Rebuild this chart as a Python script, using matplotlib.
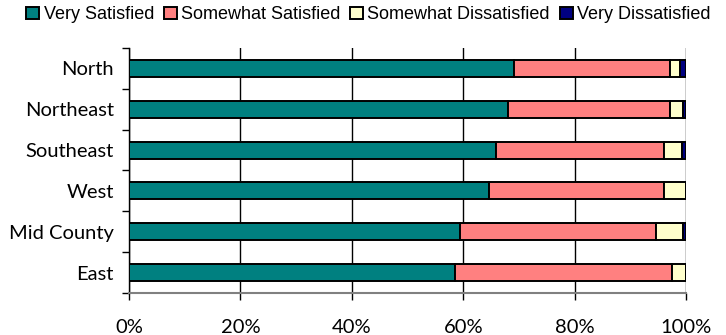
import matplotlib
matplotlib.use("Agg")
import matplotlib.pyplot as plt
import numpy as np

regions = ["North", "Northeast", "Southeast", "West", "Mid County", "East"]
very_satisfied = [69.2, 68.1, 65.9, 64.6, 59.5, 58.5]
somewhat_satisfied = [27.9, 29.0, 30.1, 31.5, 35.1, 38.9]
somewhat_dissatisfied = [1.8, 2.4, 3.3, 3.9, 4.9, 2.6]
very_dissatisfied = [1.1, 0.5, 0.7, 0.0, 0.5, 0.0]
series_names = ["Very Satisfied", "Somewhat Satisfied",
                "Somewhat Dissatisfied", "Very Dissatisfied"]
xticks = [0, 20, 40, 60, 80, 100]

colors = ["#008080", "#FF8080", "#FFFFCC", "#000080"]

fig = plt.figure(figsize=(7.26, 3.35), dpi=100)
ax = fig.add_axes([0.1777, 0.1254, 0.9449 - 0.1777, 0.8567 - 0.1254])

# top category first
y = np.arange(len(regions))[::-1]
left = np.zeros(len(regions))
handles = []
for name, vals, c in zip(series_names,
                         [very_satisfied, somewhat_satisfied,
                          somewhat_dissatisfied, very_dissatisfied], colors):
    vals = np.array(vals)
    h = ax.barh(y, vals, left=left, height=0.42, color=c,
                edgecolor="black", linewidth=1.4, label=name, zorder=3)
    handles.append(h)
    left += vals

ax.set_xlim(0, 100)
ax.set_ylim(-0.5, len(regions) - 0.5)
ax.set_xticks(xticks)
ax.set_xticklabels([f"{t}%" for t in xticks], fontfamily="Lato", fontsize=14.5)
ax.set_yticks(y)
ax.set_yticklabels(regions, fontfamily="Lato", fontsize=14.5)
ax.set_yticks(np.arange(len(regions) + 1) - 0.5, minor=True)
ax.tick_params(axis="y", which="major", length=0, pad=11)
ax.tick_params(axis="y", which="minor", length=5, width=1, color="black")
ax.tick_params(axis="x", length=5, width=1, pad=14, color="black")

ax.grid(axis="x", color="black", linewidth=1, zorder=0)
ax.spines["top"].set_visible(False)
ax.spines["right"].set_visible(False)
ax.spines["left"].set_color("black")
ax.spines["left"].set_linewidth(1)
ax.spines["bottom"].set_color("#808080")
ax.spines["bottom"].set_linewidth(1.5)

fig.legend(handles=handles, labels=series_names, loc="upper left",
           bbox_to_anchor=(0.014, 1.03), ncol=4, frameon=False,
           handlelength=0.7, handleheight=0.7, handletextpad=0.25,
           columnspacing=0.55,
           prop={"family": ["Liberation Sans", "DejaVu Sans"], "size": 13})

fig.savefig("out.png", dpi=100)
